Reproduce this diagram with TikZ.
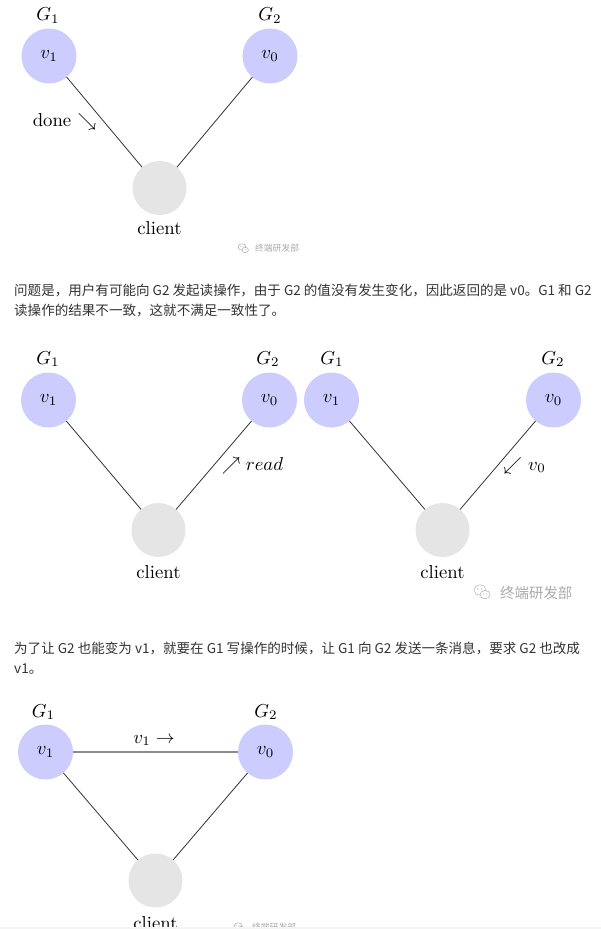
\documentclass[tikz,border=0pt]{standalone}
\usepackage{fontspec}
\newfontfamily\cjk{Noto Sans CJK SC}
\definecolor{nodeblue}{RGB}{204,204,255}
\definecolor{clientgray}{RGB}{229,229,229}
\definecolor{bodytxt}{RGB}{51,51,51}
\definecolor{wmgray}{RGB}{170,170,170}
\definecolor{bandgray}{RGB}{244,244,244}
\tikzset{
  big/.style={scale=1.88,transform shape},
  srv/.style={circle,fill=nodeblue,minimum size=29.26bp,inner sep=0pt,outer sep=0pt,big},
  cli/.style={circle,fill=clientgray,minimum size=28.72bp,inner sep=0pt,outer sep=0pt,big},
  lab/.style={anchor=base,inner sep=0pt,big},
  link/.style={draw=black!80,line width=0.8bp},
  msg/.style={draw=black!45,line width=1.1bp},
  para/.style={anchor=base west,inner sep=0pt,font=\cjk\fontsize{13.6}{16}\selectfont,text=bodytxt},
  wmtext/.style={anchor=base west,inner sep=0pt,text=wmgray},
  wechat/.pic={
    \draw[wmgray,line width=0.5bp] (0,0) ellipse [x radius=5.5,y radius=4.6];
    \filldraw[fill=white,draw=wmgray,line width=0.5bp] (4.6,4.2) ellipse [x radius=4.6,y radius=3.8];
    \fill[wmgray] (-2,-1) circle (0.6) (1.6,-1) circle (0.6) (3,3.6) circle (0.5) (6,3.6) circle (0.5);
  }
}
\begin{document}
\begin{tikzpicture}[x=1bp,y=-1bp]
\useasboundingbox[fill=white] (0,0) rectangle (601,929);

% ---------- diagram 1 ----------
\node[srv] (a1) at (49,56) {$v_1$};
\node[srv] (a2) at (270,56) {$v_0$};
\node[cli] (ac) at (159.5,188) {};
\node[lab] (a1l) at (48,20.5) {$G_1$};
\node[lab] (a2l) at (270,20.5) {$G_2$};
\node[lab] (acl) at (159.5,234) {client};
\draw[link] (a1) -- (ac);
\draw[link] (a2) -- (ac);
\node[lab] (adone) at (64.5,126) {done $\searrow$};
\pic[scale=0.7] at (242,247) {wechat};
\node[wmtext,font=\cjk\fontsize{8.8}{10}\selectfont] (awm) at (255,251.5) {终端研发部};

% ---------- text 1 ----------
\node[para] (t1) at (14,295) {问题是，用户有可能向 G2 发起读操作，由于 G2 的值没有发生变化，因此返回的是 v0。G1 和 G2};
\node[para] (t2) at (14,315) {读操作的结果不一致，这就不满足一致性了。};

% ---------- diagram 2 left ----------
\node[srv] (b1) at (48.5,400) {$v_1$};
\node[srv] (b2) at (269.5,400) {$v_0$};
\node[cli] (bc) at (158.5,530) {};
\node[lab] (b1l) at (48,364) {$G_1$};
\node[lab] (b2l) at (268,364) {$G_2$};
\node[lab] (bcl) at (158.5,578) {client};
\draw[link] (b1) -- (bc);
\draw[link] (b2) -- (bc);
\node[lab] (bread) at (252.5,470) {$\nearrow read$};

% ---------- diagram 2 right ----------
\node[srv] (c1) at (331.5,400) {$v_1$};
\node[srv] (c2) at (553.5,400) {$v_0$};
\node[cli] (cc) at (442.5,530) {};
\node[lab] (c1l) at (332,364) {$G_1$};
\node[lab] (c2l) at (553,364) {$G_2$};
\node[lab] (ccl) at (442.5,578) {client};
\draw[link] (c1) -- (cc);
\draw[link] (c2) -- (cc);
\node[lab] (cv) at (524.5,470) {$\swarrow$ $v_0$};
\pic[scale=1.1] at (480,590) {wechat};
\node[wmtext,font=\cjk\fontsize{14.5}{16}\selectfont] (cwm) at (500,598) {终端研发部};

% ---------- text 2 ----------
\node[para] (t3) at (14,653) {为了让 G2 也能变为 v1，就要在 G1 写操作的时候，让 G1 向 G2 发送一条消息，要求 G2 也改成};
\node[para] (t4) at (14,673) {v1。};

% ---------- diagram 3 ----------
\node[srv] (d1) at (45.5,752) {$v_1$};
\node[srv] (d2) at (265.5,752) {$v_0$};
\node[cli] (dc) at (155.5,880.5) {};
\node[lab] (d1l) at (43.5,717) {$G_1$};
\node[lab] (d2l) at (266,717) {$G_2$};
\node[lab] (dcl) at (155.5,929) {client};
\draw[msg] (d1) -- (d2);
\draw[link] (d1) -- (dc);
\draw[link] (d2) -- (dc);
\node[lab] (dv) at (154,743) {$v_1 \rightarrow$};
\pic[scale=0.7] at (238,926) {wechat};
\node[wmtext,font=\cjk\fontsize{8.8}{10}\selectfont] (dwm) at (252,930) {终端研发部};

\fill[bandgray] (0,926.5) rectangle (601,929);
\end{tikzpicture}
\end{document}
